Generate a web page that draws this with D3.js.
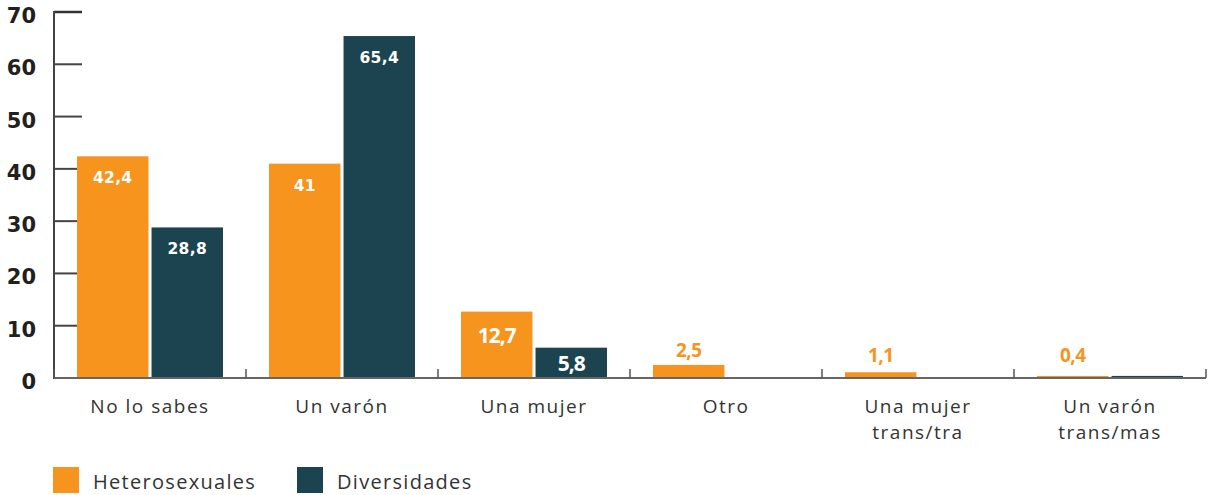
<!DOCTYPE html>
<html><head><meta charset="utf-8">
<script src="https://cdn.jsdelivr.net/npm/d3@7/dist/d3.min.js"></script>
<style>body{margin:0;background:#fff;} svg{display:block;}</style>
</head><body>
<svg id="c" width="1208" height="495"></svg>
<script>
const categories = [["No lo sabes"],["Un varón"],["Una mujer"],["Otro"],["Una mujer","trans/tra"],["Un varón","trans/mas"]];
const series = ["Heterosexuales","Diversidades"];
const hetero = [42.4, 41, 12.7, 2.5, 1.1, 0.4];
const divers = [28.8, 65.4, 5.8, 0, 0, 0.4];
const heteroLabels = ["42,4","41","12,7","2,5","1,1","0,4"];
const diversLabels = ["28,8","65,4","5,8",null,null,null];
const yTicks = [0,10,20,30,40,50,60,70];
const colors = ["#F7941D","#1B4450"];

const svg = d3.select("#c");
const x0 = 54, x1 = 1206, yBottom = 378, yTop = 12;
const x = d3.scaleBand().domain(d3.range(categories.length)).range([x0,x1]).paddingInner(0).paddingOuter(0);
const xs = d3.scaleBand().domain([0,1]).range([23, 192-23]).paddingInner(6/146);
const y = d3.scaleLinear().domain([0,70]).range([yBottom,yTop]);

// y ticks
const gy = svg.append("g");
gy.selectAll("line.t").data(yTicks).join("line")
  .attr("x1", x0).attr("x2", x0+28).attr("y1", d=>y(d)).attr("y2", d=>y(d))
  .attr("stroke", d=> d===70 ? "#333" : "#444").attr("stroke-width", d=> d===70?2.5:2);
gy.selectAll("text").data(yTicks).join("text")
  .attr("x", 36).attr("y", d=>y(d)+11).attr("text-anchor","end")
  .attr("font-family","'DejaVu Sans', sans-serif").attr("font-weight","700")
  .attr("font-size",21).attr("fill","#231f20").text(d=>d);

const data = [hetero, divers];
const labels = [heteroLabels, diversLabels];
const gb = svg.append("g");
categories.forEach((c,i)=>{
  [0,1].forEach(s=>{
    const v = data[s][i];
    if (v>0) {
      gb.append("rect").attr("x", x(i)+xs(s)).attr("width", xs.bandwidth())
        .attr("y", y(v)).attr("height", yBottom - y(v)).attr("fill", colors[s]);
    }
    const lab = labels[s][i];
    if (lab) {
      const cx = x(i)+xs(s)+xs.bandwidth()/2;
      const h = yBottom - y(v);
      let ty, fill, fs, ff, ls = 0;
      if (h > 100) { ty = y(v)+27; fill = "#fff"; fs = 15.5; ff = "'DejaVu Sans', sans-serif"; ls = 0.3; }
      else if (h > 50) { ty = y(v)+31; fill = "#fff"; fs = 21; ff = "'Open Sans', sans-serif"; ls = -1; }
      else if (h > 20) { ty = y(v)+h/2+8; fill = "#fff"; fs = 21; ff = "'Open Sans', sans-serif"; ls = -1; }
      else { ty = Math.min(y(v)-8, yBottom-16); fill = colors[s]; fs = 19; ff = "'Open Sans', sans-serif"; ls = -0.5; }
      gb.append("text").attr("x", cx).attr("y", ty).attr("text-anchor","middle")
        .attr("font-family", ff).attr("font-weight","700").attr("letter-spacing", ls)
        .attr("font-size", fs).attr("fill", fill).text(lab);
    }
  });
});

// axes lines
svg.append("line").attr("x1",x0).attr("x2",x0).attr("y1",yTop-1).attr("y2",yBottom+1).attr("stroke","#444").attr("stroke-width",2);
svg.append("line").attr("x1",x0).attr("x2",x1).attr("y1",yBottom).attr("y2",yBottom).attr("stroke","#666").attr("stroke-width",2);
const bounds = d3.range(categories.length+1).map(i=> i<categories.length ? x(i) : x1);
svg.selectAll("line.cb").data(bounds).join("line").attr("class","cb")
  .attr("x1",d=>d).attr("x2",d=>d).attr("y1",yBottom-9).attr("y2",yBottom).attr("stroke","#555").attr("stroke-width",1.5);

// category labels (each line its own text)
const gx = svg.append("g");
categories.forEach((c,i)=>{
  const cx = x(i)+x.bandwidth()/2;
  c.forEach((line,k)=> gx.append("text").attr("x", cx).attr("y", 413 + k*26).attr("text-anchor","middle")
    .attr("font-family","'Open Sans', sans-serif").attr("font-weight","400")
    .attr("font-size",19).attr("letter-spacing",1.5).attr("fill","#333").text(line));
});

// legend
const leg = [{x:53, tx:93}, {x:297, tx:337}];
series.forEach((s,i)=>{
  svg.append("rect").attr("x",leg[i].x).attr("y",467).attr("width",26).attr("height",26).attr("fill",colors[i]);
  svg.append("text").attr("x",leg[i].tx).attr("y",489).attr("font-family","'Open Sans', sans-serif")
    .attr("font-size",20).attr("letter-spacing",1.3).attr("fill","#333").text(s);
});
</script>
</body></html>
